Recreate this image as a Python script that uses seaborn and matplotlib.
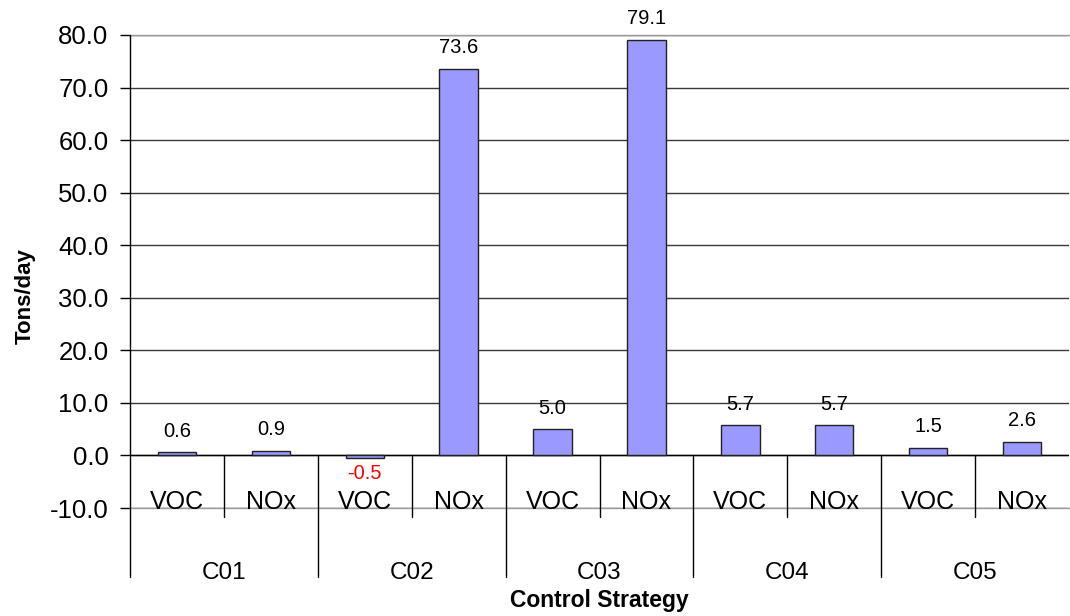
import pandas as pd
import matplotlib
matplotlib.use("Agg")
import matplotlib.pyplot as plt
import seaborn as sns

# --- Data ---
strategies = ["C01", "C02", "C03", "C04", "C05"]
pollutants = ["VOC", "NOx"]
voc_values = [0.6, -0.5, 5.0, 5.7, 1.5]
nox_values = [0.9, 73.6, 79.1, 5.7, 2.6]

rows = []
for s, v, n in zip(strategies, voc_values, nox_values):
    rows.append({"strategy": s, "pollutant": "VOC", "tons": v})
    rows.append({"strategy": s, "pollutant": "NOx", "tons": n})
df = pd.DataFrame(rows)
df["slot"] = df["strategy"] + " " + df["pollutant"]
order = list(df["slot"])

# --- Figure setup ---
sns.set_style("white")
plt.rcParams["font.family"] = ["Liberation Sans", "DejaVu Sans"]
plt.rcParams["text.color"] = "black"
plt.rcParams["ytick.color"] = "black"
plt.rcParams["ytick.labelcolor"] = "black"

W, H = 1070, 616
fig = plt.figure(figsize=(W / 100, H / 100), dpi=100)
ax = fig.add_axes([130 / W, 1 - 508 / H, (1069 - 130) / W, (508 - 35) / H])

sns.barplot(
    data=df, x="slot", y="tons", order=order, color="#9999FF",
    saturation=1, width=0.41, edgecolor="#222222", linewidth=1,
    errorbar=None, ax=ax, zorder=2,
)

ax.set_xlim(-0.5, len(order) - 0.5)
ax.set_ylim(-10, 80)
ax.set_yticks(range(-10, 81, 10))
ax.set_yticklabels([f"{t:.1f}" for t in range(-10, 81, 10)], fontsize=18.5, color="black")
ax.tick_params(axis="y", direction="out", length=7, width=1, color="black",
               pad=8.5, left=True)
ax.set_xticks([])
ax.set_xlabel("")
ax.set_ylabel("")

# grid lines (Excel style) and plot area border
ax.set_axisbelow(True)
ax.yaxis.grid(True, color="#3a3a3a", linewidth=1)
ax.axhline(0, color="black", linewidth=1, zorder=1.5)
for side in ["top", "bottom"]:
    ax.spines[side].set_color("#9a9a9a")
    ax.spines[side].set_linewidth(1)
    ax.spines[side].set_zorder(3)
ax.spines["right"].set_visible(False)
ax.spines["left"].set_visible(False)

# --- Value labels ---
for i, val in enumerate(df["tons"]):
    if val >= 0:
        ax.annotate(f"{val:.1f}", (i, val), xytext=(0, 15), textcoords="offset points",
                    ha="center", va="center", fontsize=14.5, color="black")
    else:
        ax.annotate(f"{val:.1f}", (i, val), xytext=(0, -11), textcoords="offset points",
                    ha="center", va="center", fontsize=14.5, color="red")

# --- Two-level category axis ---
ax.plot([-0.5, -0.5], [80, -23.2], color="black", linewidth=1, clip_on=False, zorder=4)
for k in range(1, len(order)):
    low = -23.2 if k % 2 == 0 else -11.8
    ax.plot([k - 0.5, k - 0.5], [0, low], color="black", linewidth=1,
            clip_on=False, zorder=4)

for i, p in enumerate(df["pollutant"]):
    ax.text(i, -10.1, p, ha="center", va="baseline", fontsize=18, color="black", zorder=5)

for g, s in enumerate(strategies):
    ax.text(2 * g + 0.5, -23.5, s, ha="center", va="baseline", fontsize=17.5,
            color="black", clip_on=False)

# --- Axis titles ---
fig.text(599 / W, 1 - 601 / H, "Control Strategy", ha="center", va="center",
         fontsize=16.5, fontweight="bold", color="black")
fig.text(25 / W, 1 - 296 / H, "Tons/day", ha="center", va="center",
         rotation=90, fontsize=16, fontweight="bold", color="black")

fig.savefig("out.png", dpi=100)
